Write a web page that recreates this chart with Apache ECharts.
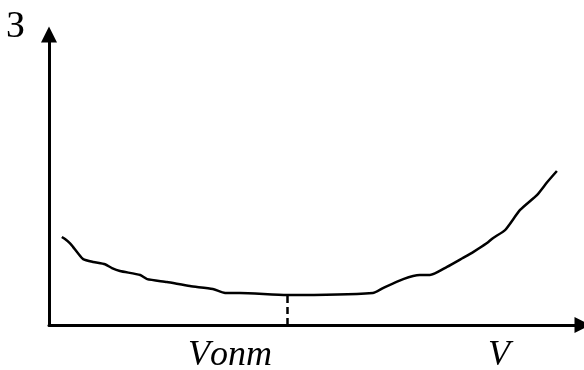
<!DOCTYPE html>
<html>
<head>
<meta charset="utf-8">
<style>
  html, body { margin: 0; padding: 0; background: #fff; }
  #chart { width: 584px; height: 370px; }
</style>
<script src="https://cdn.jsdelivr.net/npm/echarts@6/dist/echarts.min.js"></script>
</head>
<body>
<div id="chart"></div>
<script>
// Cost З as a function of speed V (relative units 0–100 on both axes)
const speed = [2.4, 3.0, 3.9, 4.5, 5.4, 6.4, 8.3, 10.5, 11.8, 13.3, 17.1, 18.4, 22.1, 26.4, 30.7, 33.0, 35.8, 44.6, 60.7, 62.6, 66.4, 69.5, 71.4, 74.6, 77.6, 79.5, 82.1, 83.2, 85.5, 88.3, 91.5, 93.4, 95.2];
const cost  = [30.3, 29.6, 28.2, 26.9, 24.8, 22.7, 21.7, 20.9, 19.6, 18.6, 17.2, 15.8, 14.8, 13.4, 12.4, 11.0, 11.0, 10.3, 11.0, 12.7, 15.8, 17.2, 17.2, 20.0, 23.1, 25.1, 28.2, 29.9, 32.7, 39.6, 44.8, 49.2, 53.0];
const optimumSpeed = 44.6;
const optimumCost = 10.3;
const yAxisName = 'З';
const xAxisName = 'V';
const optimumLabel = 'Vопт';

const chart = echarts.init(document.getElementById('chart'), null, { renderer: 'canvas' });

const axisLine = (size) => ({
  show: true,
  symbol: ['none', 'triangle'],
  symbolSize: size,
  lineStyle: { color: '#000', width: 3 }
});

chart.setOption({
  animation: false,
  backgroundColor: '#fff',
  grid: { left: 49, right: 1.5, top: 34.5, bottom: 45 },
  xAxis: {
    type: 'value', min: 0, max: 100,
    axisLine: axisLine([16, 16]),
    axisTick: { show: false }, axisLabel: { show: false }, splitLine: { show: false }
  },
  yAxis: {
    type: 'value', min: 0, max: 100,
    axisLine: axisLine([16, 16]),
    axisTick: { show: false }, axisLabel: { show: false }, splitLine: { show: false }
  },
  series: [{
    type: 'line',
    data: speed.map((v, i) => [v, cost[i]]),
    showSymbol: false,
    smooth: 0.2,
    lineStyle: { color: '#000', width: 2.5 },
    markLine: {
      silent: true,
      symbol: ['none', 'none'],
      label: { show: false },
      lineStyle: { color: '#000', width: 2.5, type: [7, 4] },
      data: [[{ coord: [optimumSpeed, 0] }, { coord: [optimumSpeed, optimumCost] }]]
    }
  }],
  graphic: [
    { type: 'text', x: 6, y: 27,
      style: { text: yAxisName, font: '38px "Liberation Serif"', fill: '#000', verticalAlign: 'middle' } },
    { type: 'text', x: 188, y: 356,
      style: { text: optimumLabel, font: 'italic 36px "Liberation Serif"', fill: '#000', verticalAlign: 'middle' } },
    { type: 'text', x: 488, y: 356,
      style: { text: xAxisName, font: 'italic 36px "Liberation Serif"', fill: '#000', verticalAlign: 'middle' } }
  ]
});
</script>
</body>
</html>
